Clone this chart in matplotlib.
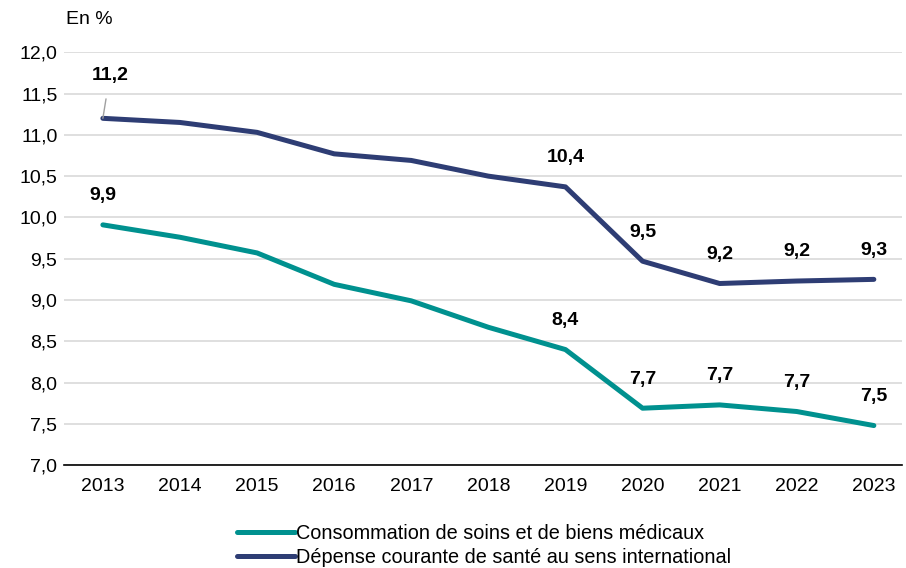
import matplotlib.pyplot as plt

plt.rcParams['font.family'] = ['Liberation Sans', 'DejaVu Sans']

# Données
annees = ['2013', '2014', '2015', '2016', '2017', '2018', '2019', '2020', '2021', '2022', '2023']
csbm = [9.91, 9.76, 9.57, 9.19, 8.99, 8.67, 8.40, 7.69, 7.73, 7.65, 7.48]
dcsi = [11.20, 11.15, 11.03, 10.77, 10.69, 10.50, 10.37, 9.47, 9.20, 9.23, 9.25]
lib_csbm = ['9,9', '', '', '', '', '', '8,4', '7,7', '7,7', '7,7', '7,5']
lib_dcsi = ['11,2', '', '', '', '', '', '10,4', '9,5', '9,2', '9,2', '9,3']

teal = '#00918F'
navy = '#2E3D74'

fig = plt.figure(figsize=(9.06, 5.68), dpi=100)
ax = fig.add_axes([0.071, 0.181, 0.925, 0.727])

x = range(len(annees))
ax.plot(x, csbm, color=teal, lw=3.6, solid_capstyle='round',
        label='Consommation de soins et de biens médicaux')
ax.plot(x, dcsi, color=navy, lw=3.6, solid_capstyle='round',
        label='Dépense courante de santé au sens international')

# Étiquettes de valeurs
for i, t in enumerate(lib_csbm):
    if t:
        ax.annotate(t, (i, csbm[i]), xytext=(0, 21), textcoords='offset points',
                    ha='center', va='center', fontsize=14, fontweight='bold')
for i, t in enumerate(lib_dcsi):
    if not t:
        continue
    if i == 0:
        ax.annotate(t, (i, dcsi[i]), xytext=(5, 31), textcoords='offset points',
                    ha='center', va='center', fontsize=14, fontweight='bold',
                    arrowprops=dict(arrowstyle='-', color='#A0A0A0', lw=1,
                                    shrinkA=9, shrinkB=0))
    else:
        ax.annotate(t, (i, dcsi[i]), xytext=(0, 21), textcoords='offset points',
                    ha='center', va='center', fontsize=14, fontweight='bold')

ax.set_ylim(7, 12)
ax.set_xlim(-0.5, 10.37)
ax.set_yticks([7 + 0.5 * k for k in range(11)])
ax.set_yticklabels([f'{7 + 0.5 * k:.1f}'.replace('.', ',') for k in range(11)])
ax.set_xticks(list(x))
ax.set_xticklabels(annees)
ax.tick_params(length=0, labelsize=14, colors='black')
ax.tick_params(axis='x', pad=9)
ax.tick_params(axis='y', pad=5)
ax.grid(axis='y', color='#D9D9D9', lw=1.2)
ax.set_axisbelow(True)
for s in ['top', 'right', 'left']:
    ax.spines[s].set_visible(False)
ax.spines['bottom'].set_color('black')
ax.spines['bottom'].set_linewidth(1.2)

fig.text(0.073, 0.965, 'En %', fontsize=14, ha='left', va='center')

fig.legend(loc='center', bbox_to_anchor=(0.534, 0.04), ncol=1, frameon=False,
           fontsize=14.3, handlelength=2.9, handletextpad=0.05, labelspacing=0.25)

plt.savefig('out.png')
